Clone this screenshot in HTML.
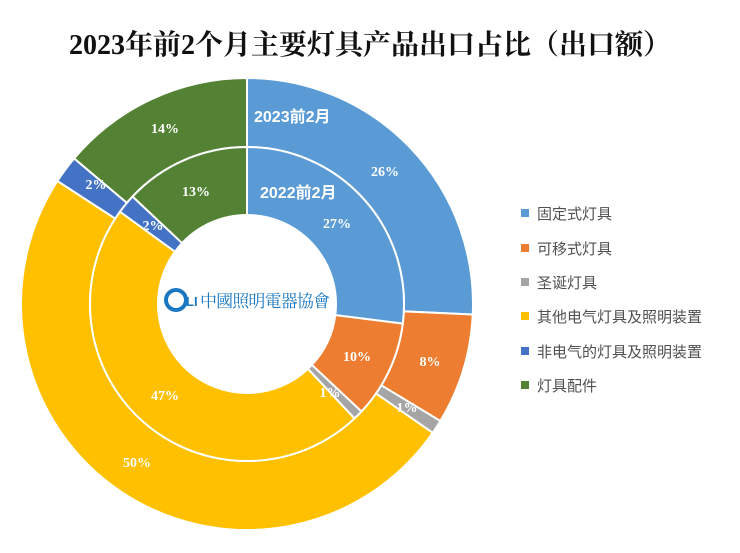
<!DOCTYPE html>
<html><head><meta charset="utf-8"><style>
body{margin:0;background:#fff;width:740px;height:548px;overflow:hidden}
</style></head><body>
<svg id="s" width="740" height="548" xmlns="http://www.w3.org/2000/svg" font-family="Liberation Serif, Noto Serif CJK SC, serif">
<text x="370" y="54" text-anchor="middle" font-size="28" font-weight="bold" fill="#111">2023年前2个月主要灯具产品出口占比（出口额）</text>
<g id="g"></g>
<g font-family="Liberation Sans, Noto Sans CJK SC, sans-serif" font-size="15" fill="#505050">
<rect x="521" y="209" width="8" height="8" fill="#5B9BD5"/><text x="537" y="219">固定式灯具</text>
<rect x="521" y="244" width="8" height="8" fill="#ED7D31"/><text x="537" y="254">可移式灯具</text>
<rect x="521" y="278" width="8" height="8" fill="#A5A5A5"/><text x="537" y="288">圣诞灯具</text>
<rect x="521" y="312" width="8" height="8" fill="#FFC000"/><text x="537" y="322">其他电气灯具及照明装置</text>
<rect x="521" y="347" width="8" height="8" fill="#4472C4"/><text x="537" y="357">非电气的灯具及照明装置</text>
<rect x="521" y="381" width="8" height="8" fill="#548235"/><text x="537" y="391">灯具配件</text>
</g>
<g id="t" font-weight="bold" fill="#fff" font-size="14"></g>
<text x="254" y="122" fill="#fff" font-weight="bold" font-size="16" font-family="Liberation Sans, Noto Sans CJK SC, sans-serif">2023前2月</text>
<text x="260" y="198" fill="#fff" font-weight="bold" font-size="16" font-family="Liberation Sans, Noto Sans CJK SC, sans-serif">2022前2月</text>
<circle cx="176" cy="300" r="10" fill="none" stroke="#1a78c2" stroke-width="4"/>
<text x="186" y="306" font-size="13" font-weight="bold" fill="#1a78c2" font-family="Liberation Sans, sans-serif">LI</text>
<text x="200" y="307" font-size="17" fill="#1a78c2" textLength="130" font-family="Noto Serif CJK SC, serif">中國照明電器協會</text>
</svg>
<script>
var cx=247,cy=304,cols=['#5B9BD5','#ED7D31','#A5A5A5','#FFC000','#4472C4','#548235'];
function pt(r,a){return [cx+r*Math.sin(a),cy-r*Math.cos(a)];}
function ring(vals,r0,r1){var tot=vals.reduce((a,b)=>a+b,0),a=0,h='';
vals.forEach(function(v,i){var b=a+v/tot*2*Math.PI,l=(b-a)>Math.PI?1:0;
var p1=pt(r1,a),p2=pt(r1,b),p3=pt(r0,b),p4=pt(r0,a);
h+='<path d="M'+p1+' A'+r1+','+r1+' 0 '+l+' 1 '+p2+' L'+p3+' A'+r0+','+r0+' 0 '+l+' 0 '+p4+'Z" fill="'+cols[i]+'" stroke="#fff" stroke-width="2"/>';a=b;});return h;}
document.getElementById('g').innerHTML=ring([26,8,1,50,2,14],157,226)+ring([27,10,1,47,2,13],89,157);
var L=[[385,176,'26%'],[430,366,'8%'],[407,412,'1%'],[137,467,'50%'],[96,189,'2%'],[165,133,'14%'],[337,228,'27%'],[357,361,'10%'],[330,397,'1%'],[165,400,'47%'],[153,230,'2%'],[196,196,'13%']];
document.getElementById('t').innerHTML=L.map(function(l){return '<text x="'+l[0]+'" y="'+l[1]+'" text-anchor="middle">'+l[2]+'</text>';}).join('');
</script>
</body></html>
